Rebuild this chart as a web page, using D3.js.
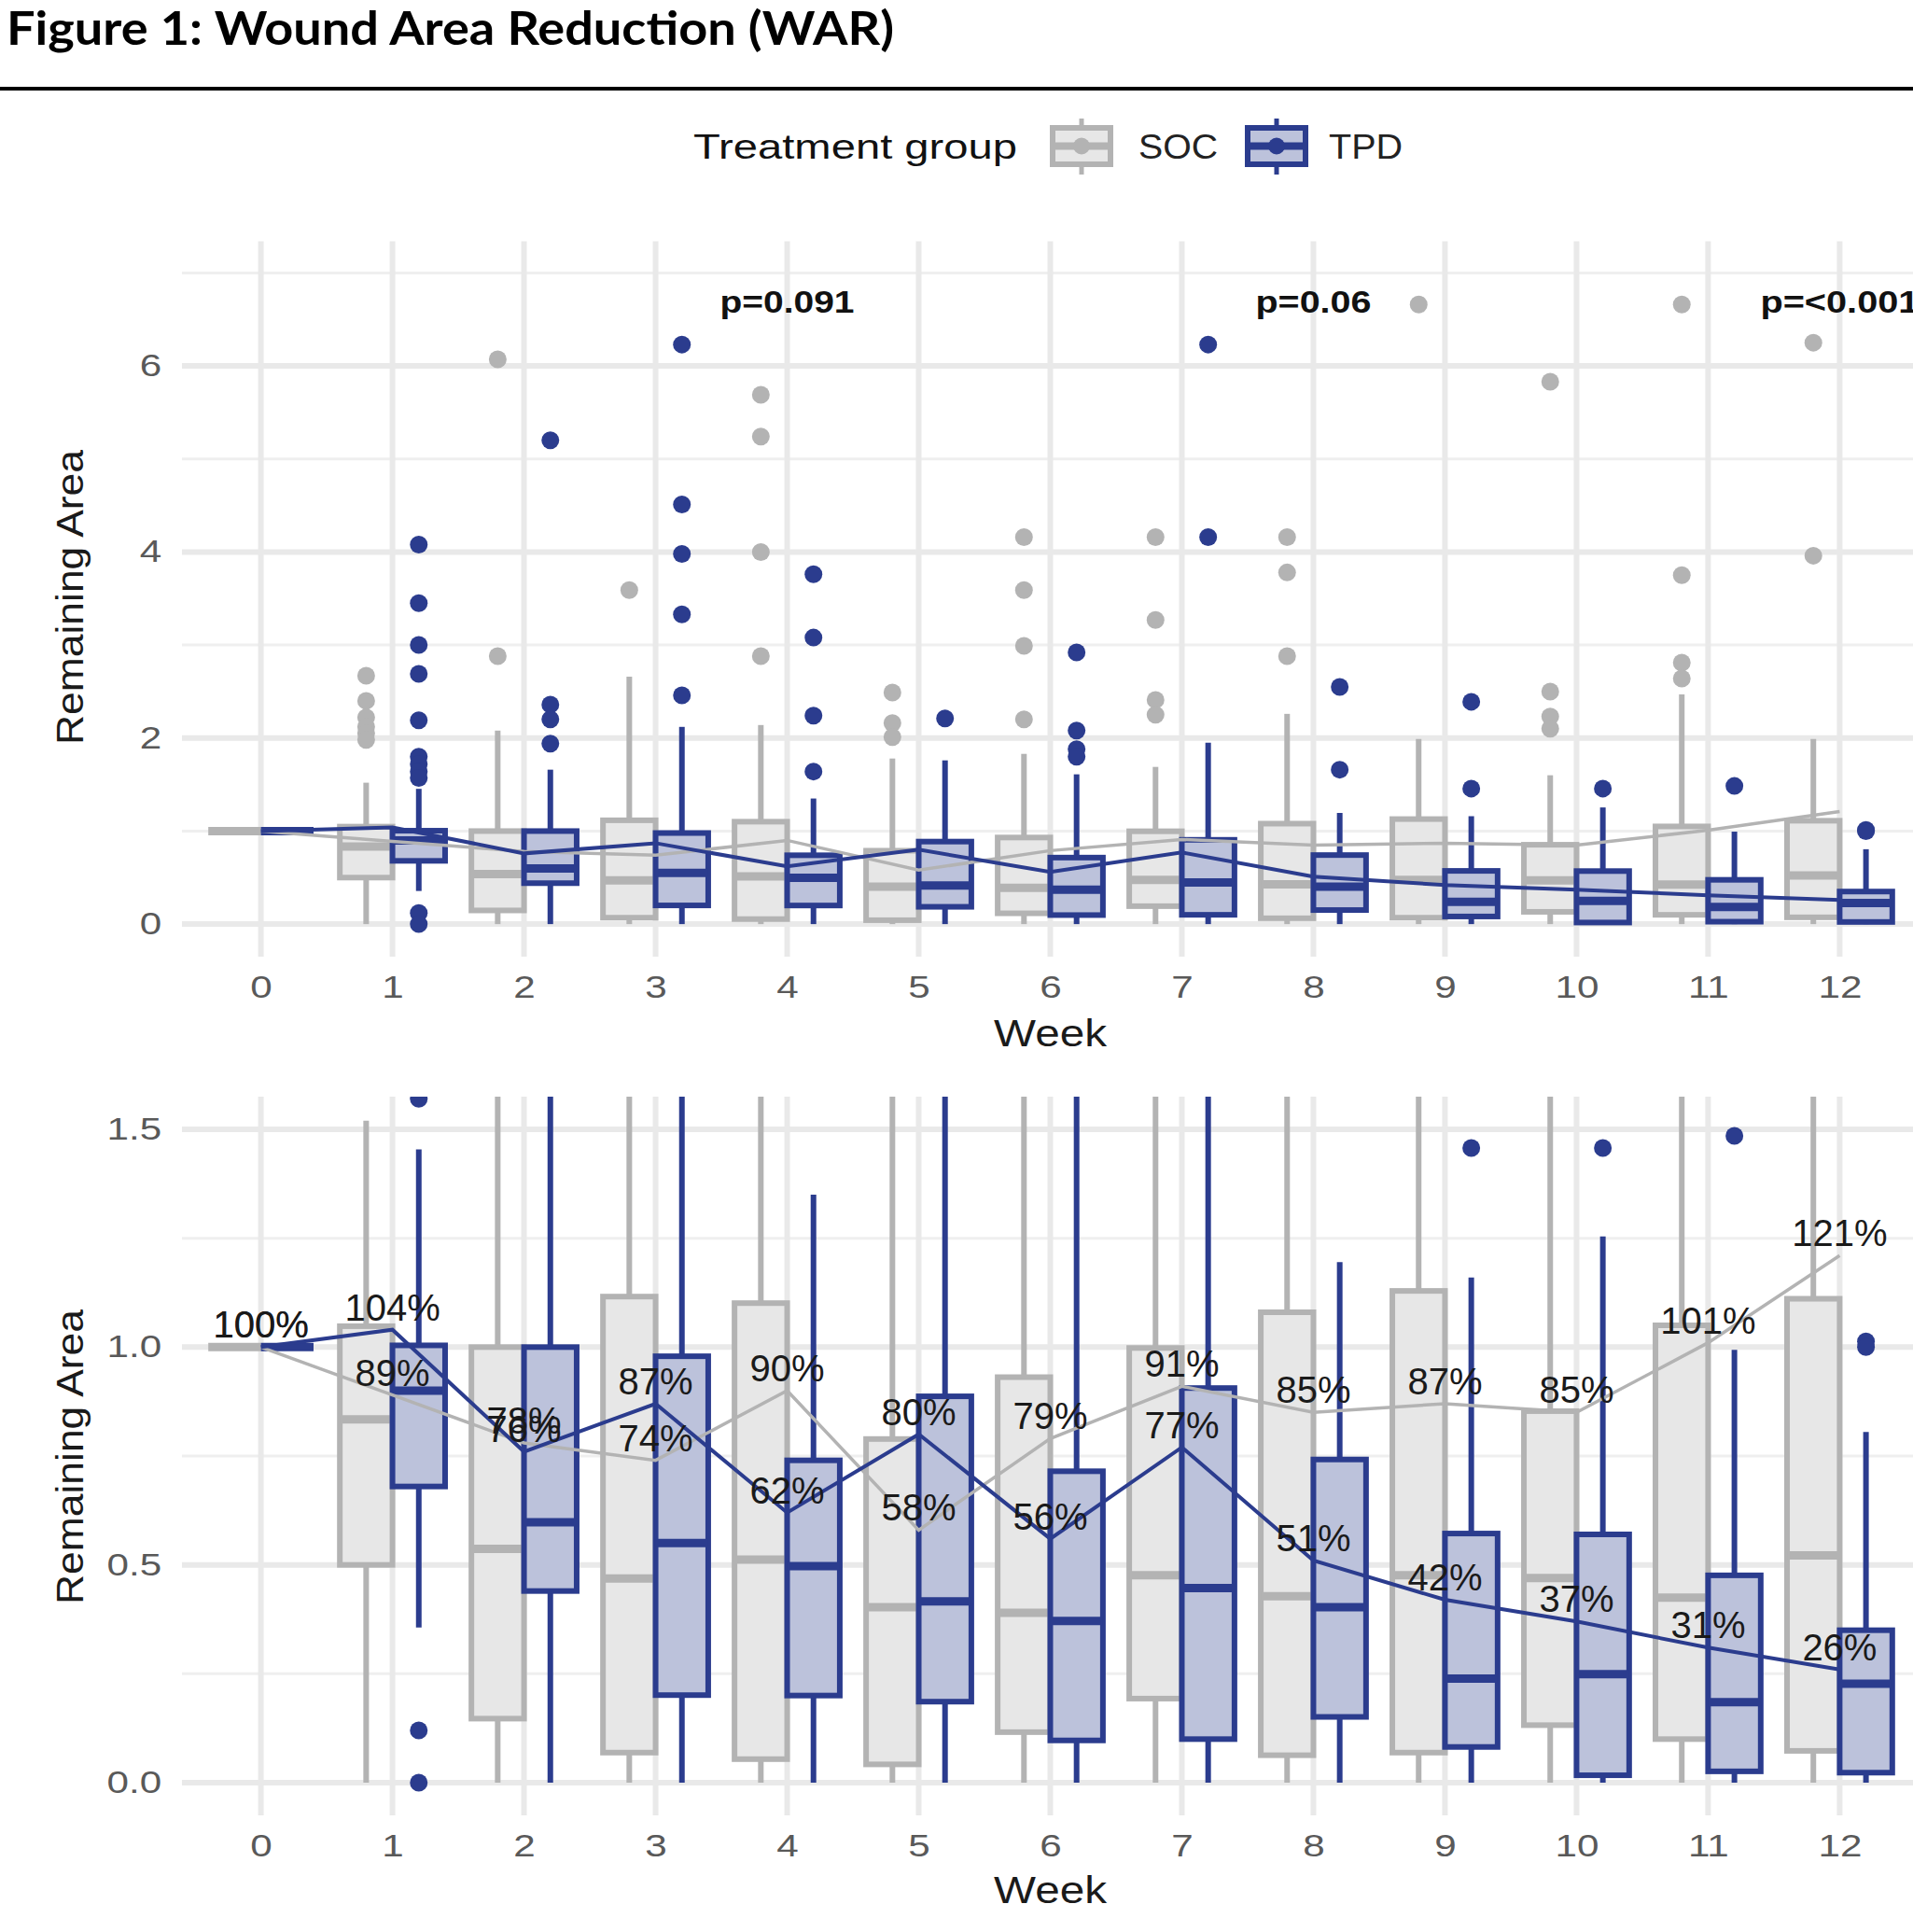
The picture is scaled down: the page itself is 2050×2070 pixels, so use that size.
<!DOCTYPE html>
<html>
<head>
<meta charset="utf-8">
<title>Wound Area Reduction</title>
<script src="https://d3js.org/d3.v7.min.js"></script>
<style>
  body { margin: 0; background: #fff; }
  text { font-family: 'Liberation Sans', Arial, sans-serif; }
</style>
</head>
<body>
<script>
// ---- data ----
var weeks = [0, 1, 2, 3, 4, 5, 6, 7, 8, 9, 10, 11, 12]

// SOC (standard of care)
var socLow  = [1, 0, 0, 0, 0, 0, 0, 0, 0, 0, 0, 0, 0]
var socQ1   = [1, 0.50, 0.147, 0.069, 0.054, 0.042, 0.116, 0.193, 0.063, 0.069, 0.132, 0.10, 0.073]
var socMed  = [1, 0.834, 0.537, 0.469, 0.512, 0.403, 0.39, 0.476, 0.428, 0.476, 0.47, 0.425, 0.522]
var socQ3   = [1, 1.048, 1.0, 1.116, 1.101, 0.789, 0.931, 0.998, 1.08, 1.129, 0.853, 1.05, 1.111]
var socHigh = [1, 1.52, 2.08, 2.66, 2.14, 1.78, 1.83, 1.69, 2.26, 1.99, 1.60, 2.47, 1.99]
var socOut  = [[], [2.67, 2.40, 2.22, 2.12, 2.05, 1.98], [6.07, 2.88], [3.59], [5.69, 5.24, 4.0, 2.88],
               [2.49, 2.16, 2.01], [4.16, 3.59, 2.99, 2.2], [4.16, 3.27, 2.41, 2.25], [4.16, 3.78, 2.88],
               [6.66], [5.83, 2.50, 2.23, 2.10], [6.66, 3.75, 2.81, 2.64], [6.25, 3.96]]
var socMean = [1.00, 0.89, 0.78, 0.74, 0.90, 0.58, 0.79, 0.91, 0.85, 0.87, 0.85, 1.01, 1.21]

// TPD
var tpdLow  = [1, 0.356, 0, 0, 0, 0, 0, 0, 0, 0, 0, 0, 0]
var tpdQ1   = [1, 0.68, 0.44, 0.201, 0.20, 0.186, 0.097, 0.10, 0.151, 0.082, 0.017, 0.026, 0.023]
var tpdMed  = [1, 0.90, 0.598, 0.55, 0.497, 0.416, 0.371, 0.447, 0.403, 0.239, 0.249, 0.185, 0.227]
var tpdQ3   = [1, 1.004, 1.0, 0.979, 0.74, 0.887, 0.715, 0.906, 0.742, 0.572, 0.57, 0.476, 0.35]
var tpdHigh = [1, 1.454, 1.66, 2.12, 1.35, 1.76, 1.61, 1.95, 1.195, 1.16, 1.254, 0.994, 0.805]
var tpdOut  = [[], [4.08, 3.45, 3.0, 2.69, 2.19, 1.80, 1.72, 1.64, 1.57, 0.12, 0.0], [5.2, 2.36, 2.2, 1.94],
               [6.23, 4.51, 3.98, 3.33, 2.46], [3.76, 3.08, 2.24, 1.64], [2.21], [2.92, 2.08, 1.88, 1.80],
               [6.23, 4.16], [2.55, 1.66], [2.39, 1.457], [1.457], [1.485], [1.013, 1.0]]
var tpdMean = [1.00, 1.04, 0.76, 0.87, 0.62, 0.80, 0.56, 0.77, 0.51, 0.42, 0.37, 0.31, 0.26]

var pWeeks  = [4, 8, 12]
var pLabels = ['p=0.091', 'p=0.06', 'p=<0.001']
var pLabelY = 6.69

var topTicks = [0, 2, 4, 6]
var topMinor = [1, 3, 5, 7]
var botTicks = [0, 0.5, 1, 1.5]
var botMinor = [0.25, 0.75, 1.25]

// ---- layout ----
var W = 2050, H = 2070
var svg = d3.select('body').append('svg').attr('width', W).attr('height', H)

var blue = '#2b3c8e'
var groups = [
    {name: 'SOC', off: -1, low: socLow, q1: socQ1, med: socMed, q3: socQ3, high: socHigh, out: socOut,
     mean: socMean, stroke: '#b3b3b3', fill: '#e7e7e7', lineW: 3.5},
    {name: 'TPD', off: 1, low: tpdLow, q1: tpdQ1, med: tpdMed, q3: tpdQ3, high: tpdHigh, out: tpdOut,
     mean: tpdMean, stroke: blue, fill: '#bcc2db', lineW: 4}
]

var x = d3.scaleLinear().domain([-0.6, 12.6]).range([195, 2056])
var boxW = 0.4

// title + rule
svg.append('text').attr('x', 7).attr('y', 48)
    .style('font-family', "Lato, 'Open Sans', sans-serif")
    .attr('font-weight', 'bold').attr('font-size', 50)
    .attr('textLength', 951).attr('lengthAdjust', 'spacingAndGlyphs')
    .attr('fill', '#000').text('Figure 1: Wound Area Reduction (WAR)')
svg.append('line').attr('x1', 0).attr('x2', W).attr('y1', 95).attr('y2', 95)
    .attr('stroke', '#000').attr('stroke-width', 4)

// legend
svg.append('text').attr('x', 743).attr('y', 170).attr('font-size', 37)
    .attr('textLength', 347).attr('lengthAdjust', 'spacingAndGlyphs')
    .attr('fill', '#111').text('Treatment group')
var legendX = [1128, 1337]
var legendTextX = [1220, 1424]
var legendTextW = [85, 79]
groups.forEach(function(gr, i) {
    var kx = legendX[i], kw = 62, cx = kx + kw / 2
    var k = svg.append('g')
    k.append('line').attr('x1', cx).attr('x2', cx).attr('y1', 127).attr('y2', 187)
        .attr('stroke', gr.stroke).attr('stroke-width', 5)
    k.append('rect').attr('x', kx).attr('y', 137).attr('width', kw).attr('height', 39)
        .attr('fill', gr.fill).attr('stroke', gr.stroke).attr('stroke-width', 6)
    k.append('line').attr('x1', kx).attr('x2', kx + kw).attr('y1', 156.5).attr('y2', 156.5)
        .attr('stroke', gr.stroke).attr('stroke-width', 8)
    k.append('circle').attr('cx', cx).attr('cy', 156.5).attr('r', 9).attr('fill', gr.stroke)
    svg.append('text').attr('x', legendTextX[i]).attr('y', 170).attr('font-size', 36)
        .attr('textLength', legendTextW[i]).attr('lengthAdjust', 'spacingAndGlyphs')
        .attr('fill', '#222').text(gr.name)
})

var panels = [
    {top: 258.5, bottom: 1025, domain: [-0.35, 7.34], ticks: topTicks, minor: topMinor,
     fmt: d3.format('d'), pct: false, pv: true, titleY: 1121, yTitleC: 640},
    {top: 1175, bottom: 1945, domain: [-0.075, 1.575], ticks: botTicks, minor: botMinor,
     fmt: d3.format('.1f'), pct: true, pv: false, titleY: 2039, yTitleC: 1561}
]

panels.forEach(function(p, pi) {
    var y = d3.scaleLinear().domain(p.domain).range([p.bottom, p.top])
    var g = svg.append('g')
    var x0 = x.range()[0], x1 = x.range()[1]

    // grid
    g.selectAll('.minor').data(p.minor).enter().append('line')
        .attr('x1', x0).attr('x2', x1).attr('y1', function(d) { return y(d) }).attr('y2', function(d) { return y(d) })
        .attr('stroke', '#efefef').attr('stroke-width', 3)
    g.selectAll('.major').data(p.ticks).enter().append('line')
        .attr('x1', x0).attr('x2', x1).attr('y1', function(d) { return y(d) }).attr('y2', function(d) { return y(d) })
        .attr('stroke', '#e9e9e9').attr('stroke-width', 6)
    g.selectAll('.vgrid').data(weeks).enter().append('line')
        .attr('x1', function(d) { return x(d) }).attr('x2', function(d) { return x(d) })
        .attr('y1', p.top).attr('y2', p.bottom)
        .attr('stroke', '#e9e9e9').attr('stroke-width', 6)

    // axes
    var xa = g.append('g').attr('transform', 'translate(0,' + p.bottom + ')')
        .call(d3.axisBottom(x).tickValues(weeks).tickSize(0).tickPadding(21).tickFormat(d3.format('d')))
    xa.select('.domain').remove()
    xa.selectAll('text').attr('font-size', 33).attr('fill', '#595959')
        .style('font-family', "'Liberation Sans', Arial, sans-serif").attr('transform', 'scale(1.28,1)')

    var ya = g.append('g').attr('transform', 'translate(' + x0 + ',0)')
        .call(d3.axisLeft(y).tickValues(p.ticks).tickSize(0).tickPadding(17).tickFormat(p.fmt))
    ya.select('.domain').remove()
    ya.selectAll('text').attr('font-size', 33).attr('fill', '#595959')
        .style('font-family', "'Liberation Sans', Arial, sans-serif").attr('transform', 'scale(1.28,1)')

    g.append('text').attr('x', (x0 + x1) / 2).attr('y', p.titleY).attr('text-anchor', 'middle')
        .attr('font-size', 40).attr('textLength', 121).attr('lengthAdjust', 'spacingAndGlyphs')
        .attr('fill', '#1a1a1a').text('Week')
    g.append('text').attr('transform', 'translate(89,' + p.yTitleC + ') rotate(-90)')
        .attr('text-anchor', 'middle').attr('font-size', 40)
        .attr('textLength', 316).attr('lengthAdjust', 'spacingAndGlyphs')
        .attr('fill', '#1a1a1a').text('Remaining Area')

    // clipped plot contents
    var clipId = 'clip' + pi
    svg.append('clipPath').attr('id', clipId).append('rect')
        .attr('x', x0).attr('y', p.top).attr('width', x1 - x0).attr('height', p.bottom - p.top)
    var pg = svg.append('g').attr('clip-path', 'url(#' + clipId + ')')

    weeks.forEach(function(w, i) {
        groups.forEach(function(gr) {
            var left = gr.off < 0 ? w - boxW : w
            var cx = x(left + boxW / 2)
            var bx = pg.append('g')
            bx.append('line').attr('x1', cx).attr('x2', cx).attr('y1', y(gr.q3[i])).attr('y2', y(gr.high[i]))
                .attr('stroke', gr.stroke).attr('stroke-width', 6)
            bx.append('line').attr('x1', cx).attr('x2', cx).attr('y1', y(gr.q1[i])).attr('y2', y(gr.low[i]))
                .attr('stroke', gr.stroke).attr('stroke-width', 6)
            bx.append('rect').attr('x', x(left)).attr('width', x(left + boxW) - x(left))
                .attr('y', y(gr.q3[i])).attr('height', y(gr.q1[i]) - y(gr.q3[i]))
                .attr('fill', gr.fill).attr('stroke', gr.stroke).attr('stroke-width', 6)
            bx.append('line').attr('x1', x(left)).attr('x2', x(left + boxW))
                .attr('y1', y(gr.med[i])).attr('y2', y(gr.med[i]))
                .attr('stroke', gr.stroke).attr('stroke-width', 9)
            bx.selectAll('circle').data(gr.out[i]).enter().append('circle')
                .attr('cx', cx).attr('cy', function(d) { return y(d) }).attr('r', 9.5)
                .attr('fill', gr.stroke)
        })
    })

    var line = d3.line().x(function(d, i) { return x(weeks[i]) }).y(function(d) { return y(d) })
    groups.forEach(function(gr) {
        pg.append('path').datum(gr.mean).attr('d', line).attr('fill', 'none')
            .attr('stroke', gr.stroke).attr('stroke-width', gr.lineW)
    })

    if (p.pct) {
        groups.forEach(function(gr) {
            pg.selectAll('.pct' + gr.name).data(gr.mean).enter().append('text')
                .attr('x', function(d, i) { return x(weeks[i]) })
                .attr('y', function(d) { return y(d) - 10 })
                .attr('text-anchor', 'middle').attr('font-size', 40).attr('fill', '#1a1a1a')
                .text(function(d) { return Math.round(d * 100) + '%' })
        })
    }

    if (p.pv) {
        var pw = [144, 124, 170]
        g.selectAll('.pv').data(pLabels).enter().append('text')
            .attr('x', function(d, i) { return x(pWeeks[i]) })
            .attr('y', y(pLabelY)).attr('dy', '0.35em')
            .attr('text-anchor', 'middle').attr('font-size', 33).attr('font-weight', 'bold')
            .attr('textLength', function(d, i) { return pw[i] }).attr('lengthAdjust', 'spacingAndGlyphs')
            .attr('fill', '#111').text(function(d) { return d })
    }
})
</script>
</body>
</html>
